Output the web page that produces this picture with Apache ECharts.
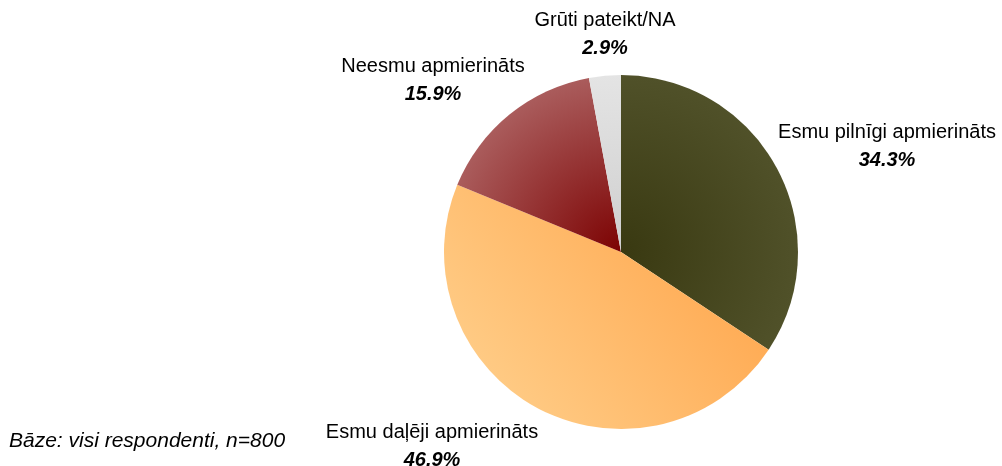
<!doctype html>
<html lang="lv">
<head>
    <meta charset="utf-8">
    <title>Apmierinātība</title>
    <script src="https://cdn.jsdelivr.net/npm/echarts@6/dist/echarts.min.js"></script>
    <style>
        html, body { margin: 0; padding: 0; background: #fff; }
        #main { width: 1002px; height: 466px; }
    </style>
</head>
<body>
    <div id="main"></div>
    <script type="text/javascript">
    // dati
    var categories = ['Esmu pilnīgi apmierināts', 'Esmu daļēji apmierināts', 'Neesmu apmierināts', 'Grūti pateikt/NA'];
    var values = [34.3, 46.9, 15.9, 2.9];
    var baseNote = 'Bāze: visi respondenti, n=800';

    var cx = 621, cy = 252, R = 177;

    // krāsas (gradients katram sektoram)
    function radial(c0, c1) {
        return new echarts.graphic.RadialGradient(cx, cy, R, [{offset: 0, color: c0}, {offset: 1, color: c1}], true);
    }
    var sliceColors = [
        radial('#393911', '#505129'),
        new echarts.graphic.LinearGradient(1, 0, 0, 1, [{offset: 0, color: '#ffa043'}, {offset: 1, color: '#ffd391'}]),
        radial('#7c0202', '#aa5c5c'),
        new echarts.graphic.LinearGradient(0, 1, 0, 0, [{offset: 0, color: '#cfcfcf'}, {offset: 1, color: '#e4e4e4'}])
    ];

    // etiķešu nobīde no centra
    var labelOffsets = [[266, -106], [-189, 194], [-188, -172], [-16, -218]];

    var chart = echarts.init(document.getElementById('main'), null, {renderer: 'canvas'});

    var option = {
        animation: false,
        textStyle: {fontFamily: 'Liberation Sans, Arial, sans-serif'},
        title: {
            text: baseNote,
            left: 4,
            top: 426,
            textStyle: {
                fontFamily: 'Liberation Sans, Arial, sans-serif',
                fontSize: 21,
                fontWeight: 'normal',
                fontStyle: 'italic',
                color: '#000'
            }
        },
        series: [{
            type: 'pie',
            center: [cx, cy],
            radius: R,
            startAngle: 90,
            clockwise: true,
            silent: true,
            itemStyle: {borderWidth: 0},
            labelLine: {show: false},
            label: {
                show: true,
                position: 'outside',
                alignTo: 'none',
                overflow: 'none',
                width: 300,
                formatter: function (p) {
                    return '{n|' + p.name + '}\n{p|' + p.value.toFixed(1) + '%}';
                },
                rich: {
                    n: {fontSize: 20, color: '#000', lineHeight: 28, fontFamily: 'Liberation Sans, Arial, sans-serif'},
                    p: {fontSize: 20, color: '#000', lineHeight: 28, fontWeight: 'bold', fontStyle: 'italic', fontFamily: 'Liberation Sans, Arial, sans-serif'}
                }
            },
            labelLayout: function (params) {
                var o = labelOffsets[params.dataIndex];
                return {x: cx + o[0], y: cy + o[1], align: 'center', verticalAlign: 'middle'};
            },
            data: categories.map(function (c, i) {
                return {name: c, value: values[i], itemStyle: {color: sliceColors[i]}};
            })
        }]
    };

    chart.setOption(option);
    </script>
</body>
</html>
